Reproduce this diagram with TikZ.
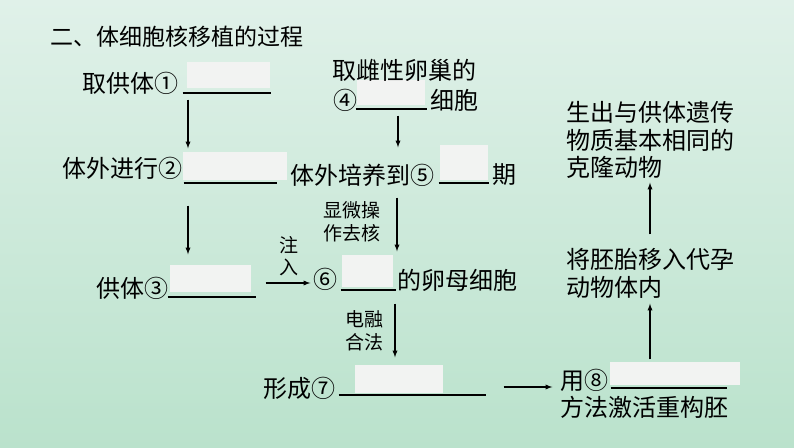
\documentclass[tikz,border=0pt]{standalone}
\usepackage{fontspec}
\setmainfont{Noto Sans CJK SC}
\pgfdeclarelayer{bglayer}
\pgfdeclarelayer{edgelayer}
\pgfdeclarelayer{nodelayer}
\pgfsetlayers{bglayer,edgelayer,nodelayer,main}
\definecolor{mint}{RGB}{224,241,233}
\definecolor{mintdeep}{RGB}{186,226,204}
\definecolor{blankfill}{RGB}{242,243,242}
\tikzstyle{none}=[inner sep=0pt]
\tikzstyle{title}=[inner sep=0pt,anchor=west,font=\fontsize{23}{27}\selectfont]
\tikzstyle{txt}=[inner sep=0pt,anchor=west,align=left,font=\fontsize{24}{27.5}\selectfont]
\tikzstyle{note}=[inner sep=0pt,align=center,font=\fontsize{19}{22.5}\selectfont]
\tikzstyle{blank}=[rectangle,fill=blankfill,inner sep=0pt]
\tikzstyle{rule}=[draw=black,line width=1.6pt]
\tikzstyle{transition}=[-latex,draw=black,line width=1.3pt]

\begin{document}
\begin{tikzpicture}[x=1pt,y=-1pt]
	\useasboundingbox (0,0) rectangle (794,447);
	\begin{pgfonlayer}{bglayer}
		\shade [top color=mint, bottom color=mintdeep] (0,0) rectangle (794,447);
	\end{pgfonlayer}
	\begin{pgfonlayer}{nodelayer}
		\node [style=title] (0) at (50, 37) {二、体细胞核移植的过程};
		\node [style=txt] (1) at (82, 83) {取供体①};
		\node [style=txt] (2) at (332, 70) {取雌性卵巢的};
		\node [style=txt] (3) at (333, 100) {④};
		\node [style=txt] (4) at (430, 100) {细胞};
		\node [style=txt] (5) at (62, 168) {体外进行②};
		\node [style=txt] (6) at (290, 175) {体外培养到⑤};
		\node [style=txt] (7) at (492, 175) {期};
		\node [style=txt] (8) at (96, 288) {供体③};
		\node [style=note] (9) at (289, 256) {注\\入};
		\node [style=txt] (10) at (313, 279) {⑥};
		\node [style=txt] (11) at (397, 280) {的卵母细胞};
		\node [style=note] (12) at (352, 222) {显微操\\作去核};
		\node [style=note] (13) at (364, 331) {电融\\合法};
		\node [style=txt] (14) at (263, 388) {形成⑦};
		\node [style=txt] (15) at (560, 380) {用⑧};
		\node [style=txt] (16) at (560, 407) {方法激活重构胚};
		\node [style=txt] (17) at (566, 273.5) {将胚胎移入代孕\\动物体内};
		\node [style=txt] (18) at (566, 140) {生出与供体遗传\\物质基本相同的\\克隆动物};
	\end{pgfonlayer}
	\begin{pgfonlayer}{edgelayer}
		% answer boxes
		\node [style=blank, minimum width=83, minimum height=26] (20) at (228.5, 75) {};
		\node [style=blank, minimum width=68, minimum height=25] (21) at (391, 92.5) {};
		\node [style=blank, minimum width=104, minimum height=28] (22) at (235, 166) {};
		\node [style=blank, minimum width=48, minimum height=35] (23) at (464, 162.5) {};
		\node [style=blank, minimum width=81, minimum height=27] (24) at (210.5, 278.5) {};
		\node [style=blank, minimum width=51, minimum height=32] (25) at (367.5, 271) {};
		\node [style=blank, minimum width=88, minimum height=28] (26) at (399, 379) {};
		\node [style=blank, minimum width=130, minimum height=23] (27) at (675, 373.5) {};
		% ends of rules and arrows
		\node [style=none] (30) at (182, 93) {};
		\node [style=none] (31) at (272, 93) {};
		\node [style=none] (32) at (355, 109) {};
		\node [style=none] (33) at (428, 109) {};
		\node [style=none] (34) at (183, 183) {};
		\node [style=none] (35) at (278, 183) {};
		\node [style=none] (36) at (438, 183) {};
		\node [style=none] (37) at (490, 183) {};
		\node [style=none] (38) at (167, 297) {};
		\node [style=none] (39) at (257, 297) {};
		\node [style=none] (40) at (340, 290) {};
		\node [style=none] (41) at (397, 290) {};
		\node [style=none] (42) at (338, 395) {};
		\node [style=none] (43) at (487, 395) {};
		\node [style=none] (44) at (610, 388) {};
		\node [style=none] (45) at (728, 388) {};
		\node [style=none] (50) at (188, 99) {};
		\node [style=none] (51) at (188, 149) {};
		\node [style=none] (52) at (188, 205) {};
		\node [style=none] (53) at (188, 255) {};
		\node [style=none] (54) at (398, 115) {};
		\node [style=none] (55) at (398, 148) {};
		\node [style=none] (56) at (397, 197) {};
		\node [style=none] (57) at (397, 252) {};
		\node [style=none] (58) at (395, 303) {};
		\node [style=none] (59) at (395, 358) {};
		\node [style=none] (60) at (265, 283) {};
		\node [style=none] (61) at (311, 283) {};
		\node [style=none] (62) at (503, 387) {};
		\node [style=none] (63) at (553, 387) {};
		\node [style=none] (64) at (650, 360) {};
		\node [style=none] (65) at (650, 303) {};
		\node [style=none] (66) at (650, 235) {};
		\node [style=none] (67) at (650, 182) {};
		\draw [style=rule] (30) to (31);
		\draw [style=rule] (32) to (33);
		\draw [style=rule] (34) to (35);
		\draw [style=rule] (36) to (37);
		\draw [style=rule] (38) to (39);
		\draw [style=rule] (40) to (41);
		\draw [style=rule] (42) to (43);
		\draw [style=rule] (44) to (45);
		\draw [style=transition] (50) to (51);
		\draw [style=transition] (52) to (53);
		\draw [style=transition] (54) to (55);
		\draw [style=transition] (56) to (57);
		\draw [style=transition] (58) to (59);
		\draw [style=transition] (60) to (61);
		\draw [style=transition] (62) to (63);
		\draw [style=transition] (64) to (65);
		\draw [style=transition] (66) to (67);
	\end{pgfonlayer}
\end{tikzpicture}
\end{document}
